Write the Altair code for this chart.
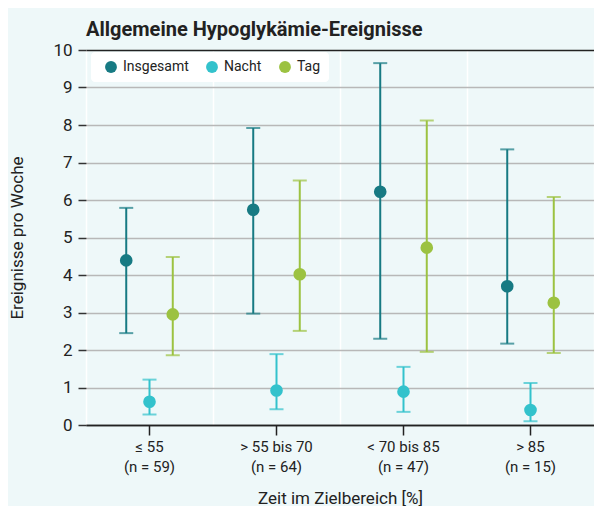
import altair as alt
import pandas as pd

# ---- data ----
cats = ["≤ 55", "> 55 bis 70", "< 70 bis 85", "> 85"]
ns = [59, 64, 47, 15]
series = ["Insgesamt", "Nacht", "Tag"]
colors = ["#177a83", "#33c2cc", "#9cc241"]

mean_ins = [4.39, 5.74, 6.22, 3.70]
low_ins = [2.45, 2.97, 2.30, 2.17]
up_ins = [5.79, 7.92, 9.65, 7.35]

mean_nacht = [0.62, 0.92, 0.89, 0.40]
low_nacht = [0.28, 0.42, 0.35, 0.10]
up_nacht = [1.21, 1.89, 1.55, 1.12]

mean_tag = [2.95, 4.02, 4.73, 3.26]
low_tag = [1.86, 2.51, 1.95, 1.92]
up_tag = [4.48, 6.52, 8.12, 6.08]

labels = [f"{c}\n(n = {n})" for c, n in zip(cats, ns)]

rows = []
for s, m, lo, up in [("Insgesamt", mean_ins, low_ins, up_ins),
                     ("Nacht", mean_nacht, low_nacht, up_nacht),
                     ("Tag", mean_tag, low_tag, up_tag)]:
    for i, lab in enumerate(labels):
        rows.append({"cat": lab, "series": s, "mean": m[i], "low": lo[i], "up": up[i]})
df = pd.DataFrame(rows)

FONT = "Roboto"

x_grid = alt.X("cat:N", sort=labels,
               scale=alt.Scale(paddingInner=0, paddingOuter=0),
               axis=alt.Axis(orient="bottom", title=None, labels=False, ticks=False,
                             domain=False, grid=True, gridColor="white", gridWidth=1.5,
                             tickBand="extent"))
x_main = alt.X("cat:N", sort=labels,
               scale=alt.Scale(paddingInner=0, paddingOuter=0),
               axis=alt.Axis(orient="bottom", title="Zeit im Zielbereich [%]", grid=False,
                             labelExpr="split(datum.label, '\\n')", labelAngle=0,
                             labelFont=FONT, labelFontSize=15, labelColor="#222",
                             labelLineHeight=20, labelPadding=4,
                             tickSize=10, tickColor="#222", tickWidth=1.5,
                             domainColor="#222", domainWidth=1.5,
                             titleFont=FONT, titleFontSize=17, titleFontWeight="normal",
                             titleColor="#222", titlePadding=16))
# spacer slots around the three series keep the groups narrow inside each band
offset_domain = [" ", "Insgesamt", "Nacht", "Tag", "  "]
xoff = alt.XOffset("series:N",
                   scale=alt.Scale(domain=offset_domain, paddingInner=0, paddingOuter=0.229))

y_scale = alt.Scale(domain=[0, 10], nice=False)
y_axis = alt.Axis(title="Ereignisse pro Woche", values=list(range(11)),
                  domain=False, tickSize=8, tickColor="#333", tickWidth=1.5,
                  labelOverlap=False,
                  gridColor={"condition": {"test": "datum.value === 10 || datum.value === 0",
                                           "value": "#222"},
                             "value": "#b8b8b8"},
                  gridWidth=1.5,
                  labelFont=FONT, labelFontSize=17, labelColor="#222", labelPadding=6,
                  titleFont=FONT, titleFontSize=17, titleFontWeight="normal",
                  titleColor="#222", titlePadding=26)

color = alt.Color("series:N", sort=series,
                  scale=alt.Scale(domain=series, range=colors),
                  legend=alt.Legend(title=None, orient="none", legendX=5, legendY=2,
                                    direction="horizontal", fillColor="white",
                                    cornerRadius=4, padding=8, symbolType="circle",
                                    symbolSize=140, symbolStrokeWidth=0, symbolOpacity=1,
                                    symbolOffset=5, labelOffset=5, columnPadding=11,
                                    labelFont=FONT, labelFontSize=14, labelColor="#222"))

base = alt.Chart(df)

grid_layer = base.mark_point(opacity=0).encode(
    x=x_grid, xOffset=xoff,
    y=alt.Y("mean:Q", scale=y_scale, axis=y_axis),
)

rules = base.mark_rule(strokeWidth=2).encode(
    x=x_main, xOffset=xoff,
    y=alt.Y("low:Q", scale=y_scale, axis=y_axis),
    y2="up:Q",
    color=color,
)
cap_lo = base.mark_tick(size=14, thickness=2).encode(
    x=x_main, xOffset=xoff, y=alt.Y("low:Q", scale=y_scale, axis=y_axis), color=color)
cap_up = base.mark_tick(size=14, thickness=2).encode(
    x=x_main, xOffset=xoff, y=alt.Y("up:Q", scale=y_scale, axis=y_axis), color=color)
points = base.mark_circle(size=160, opacity=1).encode(
    x=x_main, xOffset=xoff, y=alt.Y("mean:Q", scale=y_scale, axis=y_axis), color=color)

marks = alt.layer(rules, cap_lo, cap_up, points)

chart = alt.layer(grid_layer, marks).resolve_axis(
    x="independent"
).properties(
    width=586, height=498,
    autosize=alt.AutoSizeParams(type="fit", contains="padding"),
    title=alt.TitleParams("Allgemeine Hypoglykämie-Ereignisse", anchor="start",
                          frame="group", font=FONT, fontSize=20, fontWeight="bold",
                          color="#222", offset=1),
    padding={"left": 0, "top": 12, "right": 0, "bottom": 0},
).configure(
    background="#eef8f9",
).configure_view(
    stroke=None, fill="#eef8f9"
)

chart.save("out.html", embed_options={"renderer": "svg", "actions": False})
